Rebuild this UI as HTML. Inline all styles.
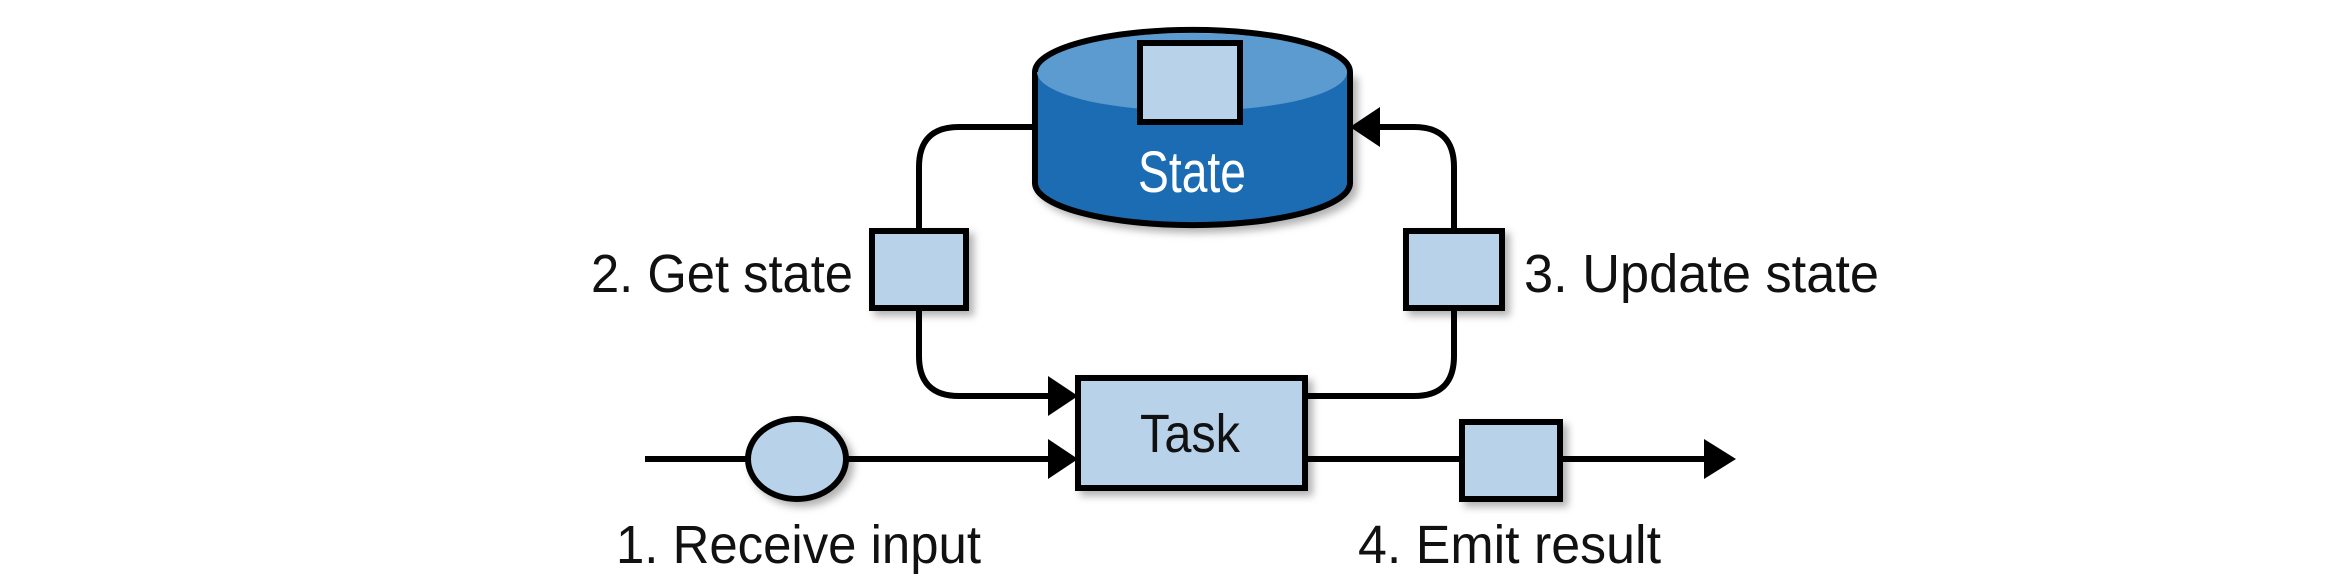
<!DOCTYPE html>
<html><head><meta charset="utf-8"><style>html,body{margin:0;padding:0;background:#fff}svg{display:block}</style></head>
<body>
<svg width="2348" height="578" viewBox="0 0 2348 578" xmlns="http://www.w3.org/2000/svg">
<defs>
<filter id="sh" x="-20%" y="-20%" width="150%" height="150%"><feDropShadow dx="5" dy="5" stdDeviation="4" flood-color="#000" flood-opacity="0.3"/></filter>
</defs>
<g fill="none" stroke="#000" stroke-width="6">
<path d="M1035,127 H959 Q919,127 919,167 V356 Q919,396 959,396 H1055"/>
<path d="M1305,396 H1414 Q1454,396 1454,356 V167 Q1454,127 1414,127 H1370"/>
<path d="M645,459 H1060"/>
<path d="M1305,459 H1712"/>
</g>
<path d="M1048,376 L1078,396 L1048,416z" fill="#000"/>
<path d="M1048,439 L1078,459 L1048,479z" fill="#000"/>
<path d="M1380,107 L1350,127 L1380,147z" fill="#000"/>
<path d="M1704,439 L1736,459 L1704,479z" fill="#000"/>
<!-- cylinder -->
<g filter="url(#sh)">
<path d="M1035,72 V183 A157,42 0 0 0 1350,183 V72" fill="#1f6cb3" stroke="#000" stroke-width="6"/>
</g>
<ellipse cx="1192" cy="72" rx="155" ry="39" fill="#5b9bd0" stroke="none"/>
<path d="M1035,72 A157,42 0 0 1 1350,72" fill="none" stroke="#000" stroke-width="6"/>
<rect x="1140" y="43" width="100" height="79" fill="#b8d2ea" stroke="#000" stroke-width="6"/>
<text x="1192" y="192" font-family="Liberation Sans, sans-serif" font-size="58" fill="#fff" text-anchor="middle" textLength="108" lengthAdjust="spacingAndGlyphs">State</text>
<g fill="#b8d2ea" stroke="#000" stroke-width="6" filter="url(#sh)">
<rect x="872" y="231" width="94" height="77"/>
<rect x="1406" y="231" width="96" height="77"/>
<rect x="1078" y="378" width="227" height="110"/>
<ellipse cx="797" cy="459" rx="49" ry="40"/>
<rect x="1462" y="422" width="98" height="77"/>
</g>
<g font-family="Liberation Sans, sans-serif" font-size="54" fill="#111">
<text x="1190" y="452" text-anchor="middle" textLength="100" lengthAdjust="spacingAndGlyphs">Task</text>
<text x="591" y="292" textLength="262" lengthAdjust="spacingAndGlyphs">2. Get state</text>
<text x="1524" y="292" textLength="355" lengthAdjust="spacingAndGlyphs">3. Update state</text>
<text x="616" y="563" textLength="365" lengthAdjust="spacingAndGlyphs">1. Receive input</text>
<text x="1358" y="563" textLength="303" lengthAdjust="spacingAndGlyphs">4. Emit result</text>
</g>
</svg>
</body></html>
